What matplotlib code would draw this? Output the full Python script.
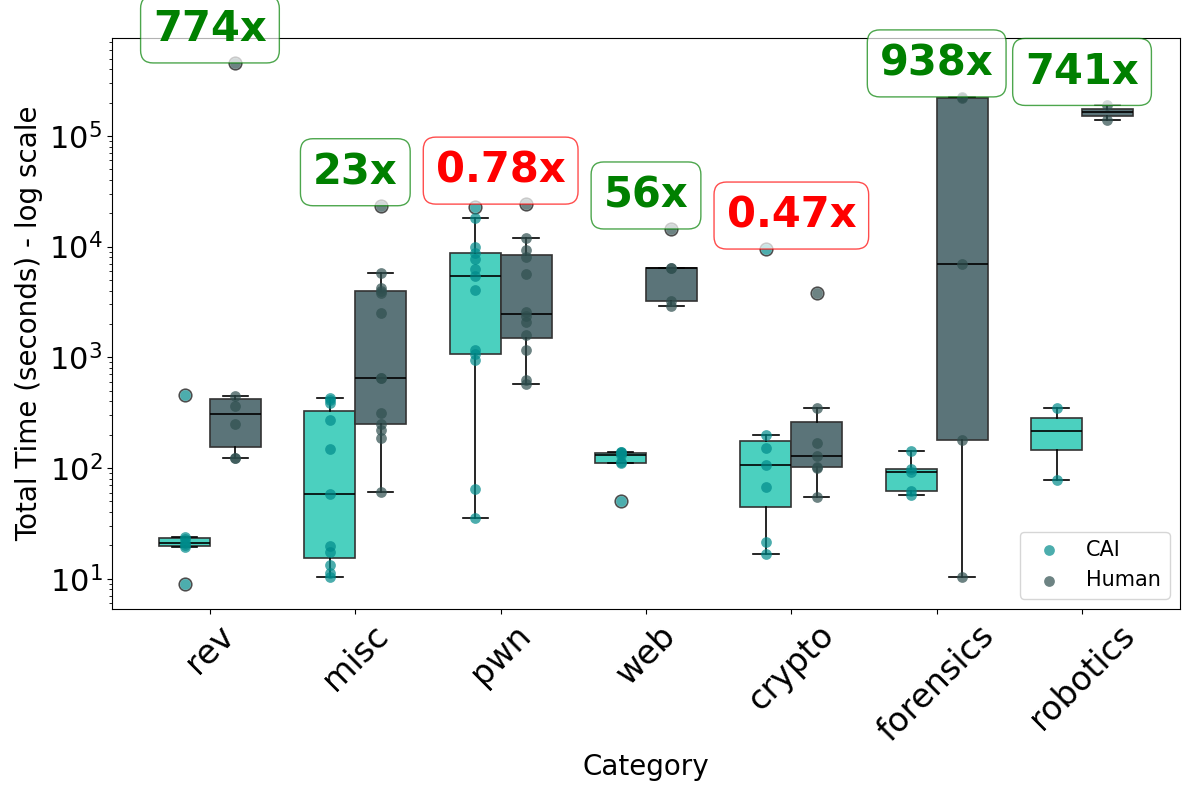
import numpy as np
import matplotlib
matplotlib.use("Agg")
import matplotlib.pyplot as plt

categories = ["rev", "misc", "pwn", "web", "crypto", "forensics", "robotics"]

# times in seconds
cai_times = [
    [9, 19.4, 20.2, 21.2, 22.7, 23.7, 460],
    [10.3, 11.2, 13.3, 17.6, 19.6, 58, 150, 272, 386, 413, 426],
    [35.5, 64.3, 940, 1067, 1156, 4094, 5405, 6223, 7670, 8796, 9954, 17990, 22650],
    [49.9, 110, 113, 132, 137, 139, 141],
    [16.9, 21.3, 67.1, 107, 152, 200, 9506],
    [57.2, 62.2, 92.3, 98.1, 142],
    [77.8, 352],
]
human_times = [
    [124, 124, 251, 366, 444, 456000],
    [61.3, 187, 222, 249, 316, 646, 646, 2518, 3815, 3966, 4188, 5826, 23400],
    [578, 620, 1162, 1592, 2084, 2344, 2571, 5715, 8091, 9290, 11840, 24200],
    [2897, 3206, 6365, 6474, 14430],
    [55.1, 99.7, 103, 128, 169, 351, 3773],
    [10.4, 181, 7005, 219000, 225000],
    [140600, 188400],
]
ratio_labels = ["774x", "23x", "0.78x", "56x", "0.47x", "938x", "741x"]
ratio_good = [True, True, False, True, False, True, True]

cai_box = "#4BD0BF"
human_box = "#5B7479"
cai_pt = "#008B8B"
human_pt = "#2F4F4F"

fig = plt.figure(figsize=(11.89, 7.91), dpi=100)
ax = fig.add_axes([112 / 1189, 1 - 609 / 791, (1180 - 112) / 1189, (609 - 38) / 791])

x = np.arange(len(categories))
off = 0.175
w = 0.35


def draw_boxes(data, pos, face, ptcol):
    ax.boxplot(data, positions=pos, widths=w, patch_artist=True,
               whis=1.5, manage_ticks=False,
               boxprops=dict(facecolor=face, edgecolor="#333333", linewidth=1.2),
               medianprops=dict(color="black", linewidth=1.2),
               whiskerprops=dict(color="black", linewidth=1.2),
               capprops=dict(color="black", linewidth=1.2),
               flierprops=dict(marker="o", markerfacecolor="none", markeredgecolor="black",
                               markeredgewidth=1.2, markersize=9, alpha=0.7))
    for p, vals in zip(pos, data):
        ax.scatter([p] * len(vals), vals, s=60, color=ptcol, alpha=0.7,
                   linewidths=0, zorder=3)


draw_boxes(cai_times, x - off, cai_box, cai_pt)
draw_boxes(human_times, x + off, human_box, human_pt)

ax.set_yscale("log")
ax.set_ylim(5.33, 7.66e5)
ax.set_xlim(-0.674, 6.674)

fs = 30
for i in range(len(categories)):
    top = max(max(cai_times[i]), max(human_times[i]))
    col = "green" if ratio_good[i] else "red"
    ax.annotate(ratio_labels[i], xy=(x[i], top), xytext=(0, 0.3 * fs),
                textcoords="offset points", ha="center", va="bottom",
                fontsize=fs, fontweight="bold", color=col, zorder=5,
                annotation_clip=False,
                bbox=dict(boxstyle="round,pad=0.3", facecolor="white",
                          edgecolor=col, alpha=0.7, linewidth=1))

ax.set_xticks(x)
ax.set_xticklabels(categories, rotation=45, fontsize=24)
ax.tick_params(axis="y", labelsize=22)
ax.set_xlabel("Category", fontsize=20)
ax.set_ylabel("Total Time (seconds) - log scale", fontsize=20)

ax.scatter([], [], s=60, color=cai_pt, alpha=0.7, linewidths=0, label="CAI")
ax.scatter([], [], s=60, color=human_pt, alpha=0.7, linewidths=0, label="Human")
ax.legend(loc="lower right", fontsize=15)

fig.savefig("out.png", dpi=100)
